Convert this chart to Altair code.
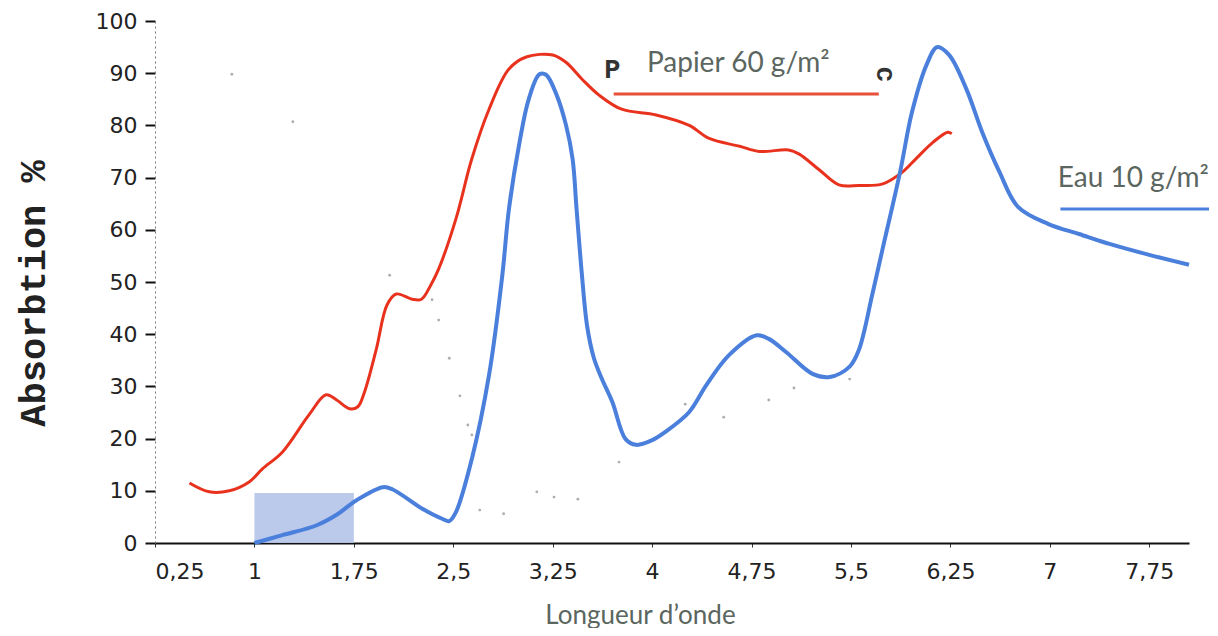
import altair as alt
import pandas as pd

# Papier 60 g/m2 (red)
red_x = [0.51, 0.66, 0.81, 0.96, 1.06, 1.21, 1.41, 1.54, 1.62, 1.72, 1.78, 1.83, 1.92, 2.0, 2.07, 2.19, 2.26,
         2.33, 2.39, 2.52, 2.64, 2.77, 2.92, 3.05, 3.25, 3.35, 3.47, 3.60, 3.77, 4.03, 4.28, 4.43,
         4.66, 4.81, 5.03, 5.11, 5.26, 5.41, 5.56, 5.74, 5.89, 5.99, 6.12, 6.23, 6.26]
red_y = [11.5, 9.8, 10.0, 11.7, 14.2, 17.4, 24.5, 28.4, 27.4, 25.7, 26.1, 28.9, 37.2, 45.6, 47.7, 46.7, 46.7,
         49.4, 52.5, 62.1, 73.6, 83.1, 90.8, 93.1, 93.5, 92.1, 88.9, 85.8, 83.1, 82.0, 80.0, 77.5,
         76.0, 75.0, 75.3, 74.5, 71.5, 68.6, 68.5, 68.8, 71.1, 73.6, 76.8, 78.7, 78.4]

# Eau 10 g/m2 (blue)
blue_x = [1.0, 1.21, 1.47, 1.62, 1.77, 1.97, 2.04, 2.27, 2.42, 2.47, 2.52, 2.64, 2.77, 2.87, 2.92, 3.0,
          3.07, 3.15, 3.20, 3.28, 3.35, 3.40, 3.43, 3.47, 3.51, 3.56, 3.62, 3.70, 3.80, 3.88, 4.0, 4.1, 4.28,
          4.41, 4.58, 4.79, 4.88, 5.01, 5.21, 5.34, 5.49, 5.56, 5.66, 5.74, 5.87, 5.96, 6.07, 6.15, 6.24,
          6.37, 6.49, 6.62, 6.76, 6.99, 7.22, 7.45, 7.75, 8.05]
blue_y = [0.0, 1.5, 3.4, 5.4, 8.2, 10.7, 10.3, 6.5, 4.6, 4.2, 5.9, 16.1, 32.2, 51.3, 64.0, 76.8,
          85.1, 89.8, 89.7, 85.8, 80.1, 73.6, 64.0, 51.5, 41.5, 35.5, 31.5, 27.0, 19.9, 18.8, 19.7, 21.3,
          25.1, 30.3, 36.0, 39.8, 39.1, 36.6, 32.4, 31.8, 33.8, 37.0, 47.5, 56.5, 71.0, 82.5, 91.6, 95.0,
          93.5, 87.0, 78.7, 71.1, 64.4, 61.1, 59.2, 57.3, 55.2, 53.3]

# faint dotted trace of the original scan
dot_x = [0.83, 1.29, 2.02, 2.34, 2.39, 2.47, 2.55, 2.61, 2.64, 2.70, 2.88, 3.13, 3.26, 3.44, 3.75, 4.25,
         4.54, 4.88, 5.07, 5.49]
dot_y = [89.8, 80.7, 51.3, 46.6, 42.7, 35.4, 28.2, 22.6, 20.7, 6.3, 5.6, 9.8, 8.8, 8.4, 15.5, 26.6,
         24.1, 27.4, 29.7, 31.4]

x_ticks = [0.25, 1, 1.75, 2.5, 3.25, 4, 4.75, 5.5, 6.25, 7, 7.75]
y_ticks = [0, 10, 20, 30, 40, 50, 60, 70, 80, 90, 100]

# highlighted band
band = pd.DataFrame({"x": [1.0], "x2": [1.75], "y": [0.0], "y2": [9.6]})

# legend annotations
leg = pd.DataFrame({
    "x": [3.71, 7.08], "x2": [5.71, 8.27], "y": [86.0, 64.0],
    "label": ["Papier 60 g/m²", "Eau 10 g/m²"],
    "tx": [4.65, 7.06], "ty": [90.2, 68.2],
    "color": ["#e8503a", "#4a7fdc"],
})
# scanned marginal glyphs
glyphs = pd.DataFrame({"tx": [3.70, 5.76], "ty": [90.6, 89.8], "label": ["P", "c"], "angle": [0, 90]})

red = pd.DataFrame({"x": red_x, "y": red_y})
blue = pd.DataFrame({"x": blue_x, "y": blue_y})
dots = pd.DataFrame({"x": dot_x, "y": dot_y})

xs = alt.Scale(domain=[0.25, 8.05], nice=False, zero=False)
ys = alt.Scale(domain=[0, 100], nice=False)

xaxis = alt.Axis(values=x_ticks, labelExpr="replace(format(datum.value, '~g'), '.', ',')", grid=False,
                 domainColor="#111", domainWidth=2, tickColor="#333", tickSize=4,
                 labelFont="DejaVu Sans", labelFontSize=22, labelColor="#222", labelPadding=14,
                 title="Longueur d\u2019onde", titleFont="Lato", titleFontSize=26, titleFontWeight="normal",
                 titleColor="#5b6660", titleX=485, titleY=80, titleBaseline="alphabetic")
yaxis = alt.Axis(values=y_ticks, grid=False, domainColor="#777", domainDash=[2, 3], domainWidth=1,
                 tickColor="#111", tickSize=10, tickWidth=2,
                 labelFont="DejaVu Sans", labelFontSize=22, labelColor="#222", labelPadding=8,
                 title="Absorbtion %", titleFont="Liberation Mono", titleFontSize=37, titleFontWeight="bold",
                 titleColor="#222", titleX=-122, titleY=272, titleAngle=270, titleBaseline="middle")

base_band = alt.Chart(band).mark_rect(color="#b4c3e8", opacity=0.9).encode(
    x=alt.X("x:Q", scale=xs, axis=xaxis), x2="x2:Q",
    y=alt.Y("y:Q", scale=ys, axis=yaxis), y2="y2:Q")

dot_layer = alt.Chart(dots).mark_point(filled=True, size=8, color="#777", opacity=0.6).encode(
    x=alt.X("x:Q", scale=xs), y=alt.Y("y:Q", scale=ys))

red_line = alt.Chart(red).mark_line(color="#e8321e", strokeWidth=3, interpolate="catmull-rom").encode(
    x=alt.X("x:Q", scale=xs), y=alt.Y("y:Q", scale=ys))

blue_line = alt.Chart(blue).mark_line(color="#4a7fdc", strokeWidth=4, interpolate="catmull-rom").encode(
    x=alt.X("x:Q", scale=xs), y=alt.Y("y:Q", scale=ys))

leg_rules = alt.Chart(leg).mark_rule(strokeWidth=3, clip=False).encode(
    x=alt.X("x:Q", scale=xs), x2="x2:Q", y=alt.Y("y:Q", scale=ys),
    color=alt.Color("color:N", scale=None))

leg_text_c = alt.Chart(leg.iloc[[0]]).mark_text(font="Lato", fontSize=28, color="#5b6660",
                                                align="center", baseline="alphabetic").encode(
    x=alt.X("tx:Q", scale=xs), y=alt.Y("ty:Q", scale=ys), text="label:N")
leg_text_l = alt.Chart(leg.iloc[[1]]).mark_text(font="Lato", fontSize=28, color="#5b6660",
                                                align="left", baseline="alphabetic").encode(
    x=alt.X("tx:Q", scale=xs), y=alt.Y("ty:Q", scale=ys), text="label:N")

glyph_text = alt.Chart(glyphs).mark_text(font="Liberation Mono", fontSize=27, fontWeight="bold",
                                         color="#333", align="center", baseline="middle").encode(
    x=alt.X("tx:Q", scale=xs), y=alt.Y("ty:Q", scale=ys), text="label:N", angle=alt.Angle("angle:Q", scale=None))

chart = alt.layer(base_band, dot_layer, red_line, blue_line, leg_rules, leg_text_c, leg_text_l,
                  glyph_text).properties(
    width=1034, height=522,
    autosize=alt.AutoSizeParams(type="none"),
    padding={"left": 147, "top": 13, "right": 20, "bottom": 85},
).configure_view(stroke=None)

chart.save("out.html", embed_options={"renderer": "svg", "actions": False})
